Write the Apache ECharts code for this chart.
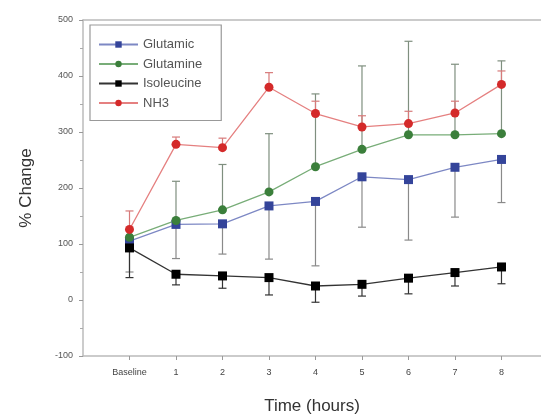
<!DOCTYPE html>
<html>
<head>
    <meta charset="utf-8">
    <title>% Change</title>
    <script src="https://cdn.jsdelivr.net/npm/echarts@6/dist/echarts.min.js"></script>
    <style>
        html, body { margin: 0; padding: 0; background: #fff; }
        #main { width: 541px; height: 414px; }
    </style>
</head>
<body>
    <div id="main"></div>
    <script type="text/javascript">
        // x positions: 0 = Baseline, 1..8 = hours
        var hours = [0, 1, 2, 3, 4, 5, 6, 7, 8];
        var hourLabels = ['Baseline', '1', '2', '3', '4', '5', '6', '7', '8'];
        var yTicks = [-100, 0, 100, 200, 300, 400, 500];

        var glutamic = [105, 135, 136, 168, 176, 220, 215, 237, 251];
        var glutamicLow = [50, 74, 82, 73, 61, 130, 107, 148, 174];

        var glutamine = [112, 142, 161, 193, 238, 269, 295, 295, 297];
        var glutamineHigh = [null, 212, 242, 297, 368, 418, 462, 421, 427];

        var isoleucine = [93, 46, 43, 40, 25, 28, 39, 49, 59];
        var isoleucineLow = [40, 27, 21, 9, -4, 7, 11, 25, 29];

        var nh3 = [126, 278, 272, 380, 333, 309, 315, 334, 385];
        var nh3High = [159, 291, 289, 406, 355, 329, 337, 355, 409];

        function pairs(vals) {
            return hours.map(function (h, i) { return [h, vals[i]]; });
        }
        function barData(vals, ends) {
            var out = [];
            hours.forEach(function (h, i) {
                if (ends[i] != null) out.push([h, vals[i], ends[i]]);
            });
            return out;
        }

        // error bar: vertical stroke from mean to end with a short cap
        function errorBar(color) {
            return function (params, api) {
                var p0 = api.coord([api.value(0), api.value(1)]);
                var p1 = api.coord([api.value(0), api.value(2)]);
                var w = 4;
                var st = { stroke: color, lineWidth: 1.2 };
                return {
                    type: 'group',
                    children: [
                        { type: 'line', shape: { x1: p0[0], y1: p0[1], x2: p1[0], y2: p1[1] }, style: st },
                        { type: 'line', shape: { x1: p1[0] - w, y1: p1[1], x2: p1[0] + w, y2: p1[1] }, style: st }
                    ]
                };
            };
        }

        function lineSeries(name, vals, symbol, markColor, lineColor) {
            return {
                name: name,
                type: 'line',
                data: pairs(vals),
                symbol: symbol,
                symbolSize: 9,
                z: 5,
                itemStyle: { color: markColor },
                lineStyle: { color: lineColor, width: 1.3 }
            };
        }
        function errSeries(vals, ends, color) {
            return {
                type: 'custom',
                data: barData(vals, ends),
                renderItem: errorBar(color),
                encode: { x: 0, y: [1, 2] },
                z: 2,
                silent: true
            };
        }

        var myChart = echarts.init(document.getElementById('main'));
        myChart.setOption({
            animation: false,
            textStyle: { fontFamily: 'Liberation Sans, Arial, sans-serif' },
            grid: { left: 83, right: 0, top: 20, bottom: 58, outerBoundsMode: 'none' },
            legend: {
                orient: 'vertical',
                left: 90,
                top: 25,
                padding: [12, 19, 10, 8],
                itemGap: 4.5,
                itemWidth: 39,
                itemHeight: 8,
                borderColor: '#999',
                borderWidth: 1.2,
                textStyle: { fontSize: 13, color: '#555', lineHeight: 15 },
                data: ['Glutamic', 'Glutamine', 'Isoleucine', 'NH3']
            },
            xAxis: [{
                type: 'value',
                min: -1,
                max: 8.85,
                interval: 1,
                name: 'Time (hours)',
                nameLocation: 'middle',
                nameGap: 42,
                nameTextStyle: { fontSize: 17, color: '#333' },
                splitLine: { show: false },
                axisLine: { onZero: false, lineStyle: { color: '#bbb', width: 1.5 } },
                axisTick: { customValues: hours, length: 4, lineStyle: { color: '#999' } },
                axisLabel: {
                    customValues: hours,
                    margin: 12,
                    fontSize: 9,
                    color: '#444',
                    formatter: function (v) { return hourLabels[hours.indexOf(v)] || ''; }
                }
            }, {
                type: 'value',
                position: 'top',
                min: -1,
                max: 8.85,
                axisLine: { show: true, onZero: false, lineStyle: { color: '#bbb', width: 1.5 } },
                axisTick: { show: false },
                axisLabel: { show: false },
                splitLine: { show: false }
            }],
            yAxis: {
                type: 'value',
                min: -100,
                max: 500,
                interval: 100,
                name: '% Change',
                nameLocation: 'middle',
                nameGap: 48,
                nameTextStyle: { fontSize: 17, color: '#333' },
                splitLine: { show: false },
                axisLine: { show: true, onZero: false, lineStyle: { color: '#bbb', width: 1.5 } },
                axisTick: { show: true, length: 4, lineStyle: { color: '#999' } },
                minorTick: { show: true, splitNumber: 2, length: 3, lineStyle: { color: '#aaa' } },
                axisLabel: {
                    customValues: yTicks,
                    margin: 10,
                    fontSize: 9,
                    color: '#555'
                }
            },
            series: [
                errSeries(glutamic, glutamicLow, '#8a8a8a'),
                errSeries(glutamine, glutamineHigh, '#7f8f7f'),
                errSeries(isoleucine, isoleucineLow, '#333333'),
                errSeries(nh3, nh3High, '#d77a7a'),
                lineSeries('Glutamic', glutamic, 'rect', '#34449a', '#7d88c4'),
                lineSeries('Glutamine', glutamine, 'circle', '#3b7f3b', '#78ad78'),
                lineSeries('Isoleucine', isoleucine, 'rect', '#000000', '#333333'),
                lineSeries('NH3', nh3, 'circle', '#d42a2a', '#e58080')
            ]
        });
    </script>
</body>
</html>
